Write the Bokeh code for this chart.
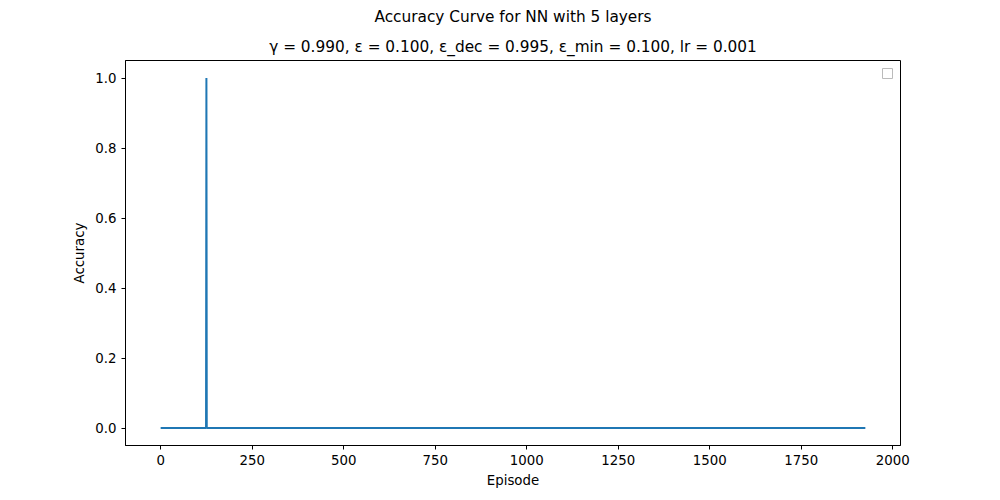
from bokeh.plotting import figure
from bokeh.models import Range1d, Title, SingleIntervalTicker, NumeralTickFormatter, BoxAnnotation
from bokeh.embed import file_html
from bokeh.resources import INLINE

# values
episodes = [0, 124, 125, 126, 1925]
accuracy = [0.0, 0.0, 1.0, 0.0, 0.0]

FONT = "DejaVu Sans"

p = figure(width=992, height=492, output_backend="svg", toolbar_location=None,
           x_range=Range1d(-96, 2021), y_range=Range1d(-0.05, 1.05),
           min_border_left=125, min_border_right=92, min_border_top=8, min_border_bottom=47)

p.add_layout(Title(text="γ = 0.990, ε = 0.100, ε_dec = 0.995, ε_min = 0.100, lr = 0.001",
                   align="center", text_font=FONT, text_font_size="11.5pt",
                   text_font_style="normal", text_color="black"), "above")
p.add_layout(Title(text="Accuracy Curve for NN with 5 layers", align="center",
                   text_font=FONT, text_font_size="11.5pt", text_font_style="normal",
                   text_color="black"), "above")

p.line(episodes, accuracy, line_color="#1f77b4", line_width=2)

# empty legend box, as in the original
p.add_layout(BoxAnnotation(left=757, right=767, bottom=367, top=377,
                           left_units="screen", right_units="screen",
                           bottom_units="screen", top_units="screen",
                           fill_color="white", fill_alpha=1,
                           line_color="#bbbbbb", line_alpha=1, line_width=1))

p.xgrid.visible = False
p.ygrid.visible = False
p.outline_line_color = "black"
p.outline_line_alpha = 1
p.outline_line_width = 1

p.xaxis.ticker = SingleIntervalTicker(interval=250, num_minor_ticks=0)
p.yaxis.ticker = SingleIntervalTicker(interval=0.2, num_minor_ticks=0)
p.yaxis.formatter = NumeralTickFormatter(format="0.0")
p.xaxis.axis_label = "Episode"
p.yaxis.axis_label = "Accuracy"
for ax in (p.xaxis, p.yaxis):
    ax.axis_label_text_font = FONT
    ax.axis_label_text_font_style = "normal"
    ax.axis_label_text_font_size = "10pt"
    ax.major_label_text_font = FONT
    ax.major_label_text_font_size = "10pt"
    ax.major_tick_in = 0
    ax.major_tick_out = 4
    ax.axis_line_color = "black"
    ax.major_tick_line_color = "black"
    ax.major_label_text_color = "black"
    ax.axis_label_text_color = "black"

open("out.html", "w").write(file_html(p, INLINE))
